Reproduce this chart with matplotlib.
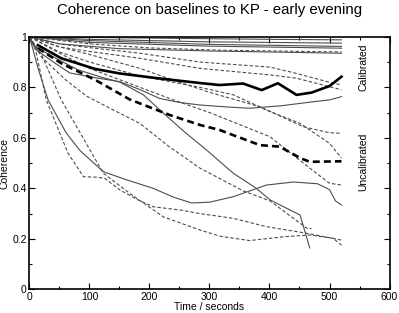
import matplotlib
matplotlib.use("Agg")
import matplotlib.pyplot as plt
from matplotlib.ticker import MultipleLocator

plt.rcParams['font.family'] = ['Liberation Sans', 'DejaVu Sans']
plt.rcParams['lines.scale_dashes'] = False

# averages (thick lines)
cal_avg_t = [14, 53, 109, 150, 206, 250, 284, 317, 356, 387, 414, 445, 470, 500, 520]
cal_avg_c = [0.967, 0.915, 0.873, 0.855, 0.838, 0.826, 0.817, 0.809, 0.815, 0.789, 0.816, 0.77, 0.779, 0.805, 0.842]
unc_avg_t = [14, 53, 109, 167, 234, 284, 317, 339, 384, 417, 451, 467, 520]
unc_avg_c = [0.955, 0.895, 0.83, 0.752, 0.69, 0.651, 0.631, 0.611, 0.571, 0.565, 0.52, 0.505, 0.507]

# calibrated baselines (thin solid)
cal1_t = [0, 200, 400, 520]
cal1_c = [1.0, 0.995, 0.99, 0.988]
cal2_t = [0, 100, 300, 520]
cal2_c = [1.0, 0.99, 0.98, 0.975]
cal3_t = [0, 100, 300, 520]
cal3_c = [1.0, 0.985, 0.97, 0.962]
cal4_t = [0, 100, 300, 520]
cal4_c = [1.0, 0.978, 0.963, 0.955]
cal5_t = [0, 50, 150, 300, 520]
cal5_c = [1.0, 0.972, 0.953, 0.944, 0.935]
cal6_t = [0, 10, 40, 67, 110, 151, 185, 217, 250, 284, 330, 367, 420, 470, 500, 520]
cal6_c = [1.0, 0.95, 0.9, 0.857, 0.838, 0.822, 0.79, 0.756, 0.74, 0.73, 0.722, 0.717, 0.727, 0.742, 0.75, 0.763]
cal7_t = [0, 10, 40, 80, 120, 151, 190, 222, 260, 295, 340, 378, 401, 451, 467]
cal7_c = [1.0, 0.96, 0.92, 0.87, 0.84, 0.82, 0.77, 0.7, 0.62, 0.552, 0.459, 0.4, 0.354, 0.294, 0.164]
cal8_t = [0, 15, 31, 61, 84, 123, 160, 206, 240, 270, 300, 340, 395, 440, 480, 500, 510, 520]
cal8_c = [1.0, 0.87, 0.75, 0.62, 0.55, 0.466, 0.435, 0.4, 0.365, 0.342, 0.345, 0.367, 0.413, 0.425, 0.418, 0.395, 0.35, 0.334]

# uncalibrated baselines (thin dashed)
unc1_t = [0, 100, 200, 317, 520]
unc1_c = [1.0, 0.972, 0.956, 0.947, 0.94]
unc2_t = [0, 50, 100, 184, 284, 401, 445, 506, 520]
unc2_c = [1.0, 0.972, 0.957, 0.935, 0.9, 0.88, 0.855, 0.816, 0.81]
unc3_t = [0, 50, 100, 184, 284, 401, 445, 520]
unc3_c = [1.0, 0.96, 0.942, 0.915, 0.875, 0.849, 0.836, 0.79]
unc4_t = [0, 50, 100, 184, 250, 300, 384, 456, 500, 520]
unc4_c = [1.0, 0.96, 0.93, 0.875, 0.82, 0.78, 0.723, 0.644, 0.62, 0.618]
unc5_t = [0, 50, 100, 184, 284, 340, 395, 451, 500, 520]
unc5_c = [1.0, 0.94, 0.9, 0.845, 0.8, 0.77, 0.71, 0.657, 0.578, 0.52]
unc6_t = [0, 50, 100, 184, 240, 300, 401, 467, 500, 520]
unc6_c = [1.0, 0.935, 0.875, 0.8, 0.75, 0.7, 0.604, 0.48, 0.42, 0.413]
unc7_t = [0, 20, 60, 95, 140, 184, 230, 284, 356, 401, 462, 470]
unc7_c = [1.0, 0.92, 0.83, 0.765, 0.71, 0.657, 0.57, 0.48, 0.39, 0.35, 0.242, 0.24]
unc8_t = [0, 10, 28, 64, 90, 112, 125, 151, 181, 206, 251, 284, 340, 395, 462, 520]
unc8_c = [1.0, 0.95, 0.75, 0.54, 0.446, 0.444, 0.44, 0.393, 0.354, 0.327, 0.314, 0.3, 0.281, 0.248, 0.222, 0.195]
unc9_t = [0, 20, 53, 101, 123, 167, 223, 284, 318, 367, 423, 467, 506, 520]
unc9_c = [1.0, 0.93, 0.75, 0.551, 0.46, 0.38, 0.287, 0.235, 0.21, 0.193, 0.208, 0.215, 0.202, 0.175]

cal_lines = [(cal1_t, cal1_c), (cal2_t, cal2_c), (cal3_t, cal3_c), (cal4_t, cal4_c),
             (cal5_t, cal5_c), (cal6_t, cal6_c), (cal7_t, cal7_c), (cal8_t, cal8_c)]
unc_lines = [(unc1_t, unc1_c), (unc2_t, unc2_c), (unc3_t, unc3_c), (unc4_t, unc4_c),
             (unc5_t, unc5_c), (unc6_t, unc6_c), (unc7_t, unc7_c), (unc8_t, unc8_c),
             (unc9_t, unc9_c)]

fig = plt.figure(figsize=(3.99, 3.13), dpi=100)
ax = fig.add_axes([0.0739, 0.0757, 0.9023, 0.8067])

for t, c in cal_lines:
    ax.plot(t, c, color='0.3', lw=0.8)
for t, c in unc_lines:
    ax.plot(t, c, color='0.3', lw=0.8, dashes=(2.5, 1.5))

ax.plot(cal_avg_t, cal_avg_c, color='black', lw=1.9)
ax.plot(unc_avg_t, unc_avg_c, color='black', lw=1.9, dashes=(5, 3))

ax.set_xlim(0, 600)
ax.set_ylim(0, 1)
ax.xaxis.set_major_locator(MultipleLocator(100))
ax.xaxis.set_minor_locator(MultipleLocator(50))
ax.yaxis.set_major_locator(MultipleLocator(0.2))
ax.yaxis.set_minor_locator(MultipleLocator(0.1))
ax.set_yticks([0, 0.2, 0.4, 0.6, 0.8, 1.0])
ax.set_yticklabels(['0', '0.2', '0.4', '0.6', '0.8', '1'])
ax.tick_params(which='both', direction='in', top=True, right=True, labelsize=7.5, pad=2)
ax.tick_params(which='major', length=4, width=0.8)
ax.tick_params(which='minor', length=2, width=0.8)
for s in ax.spines.values():
    s.set_linewidth(1.2)

ax.set_xlabel('Time / seconds', fontsize=7.5, labelpad=0)
ax.set_ylabel('Coherence', fontsize=7.5, labelpad=2)
fig.text(0.525, 0.99, 'Coherence on baselines to KP - early evening',
         fontsize=10.8, ha='center', va='top')

ax.text(556, 0.88, 'Calibrated', rotation=90, fontsize=7.5, ha='center', va='center')
ax.text(556, 0.505, 'Uncalibrated', rotation=90, fontsize=7.5, ha='center', va='center')

fig.savefig('out.png', dpi=100)
